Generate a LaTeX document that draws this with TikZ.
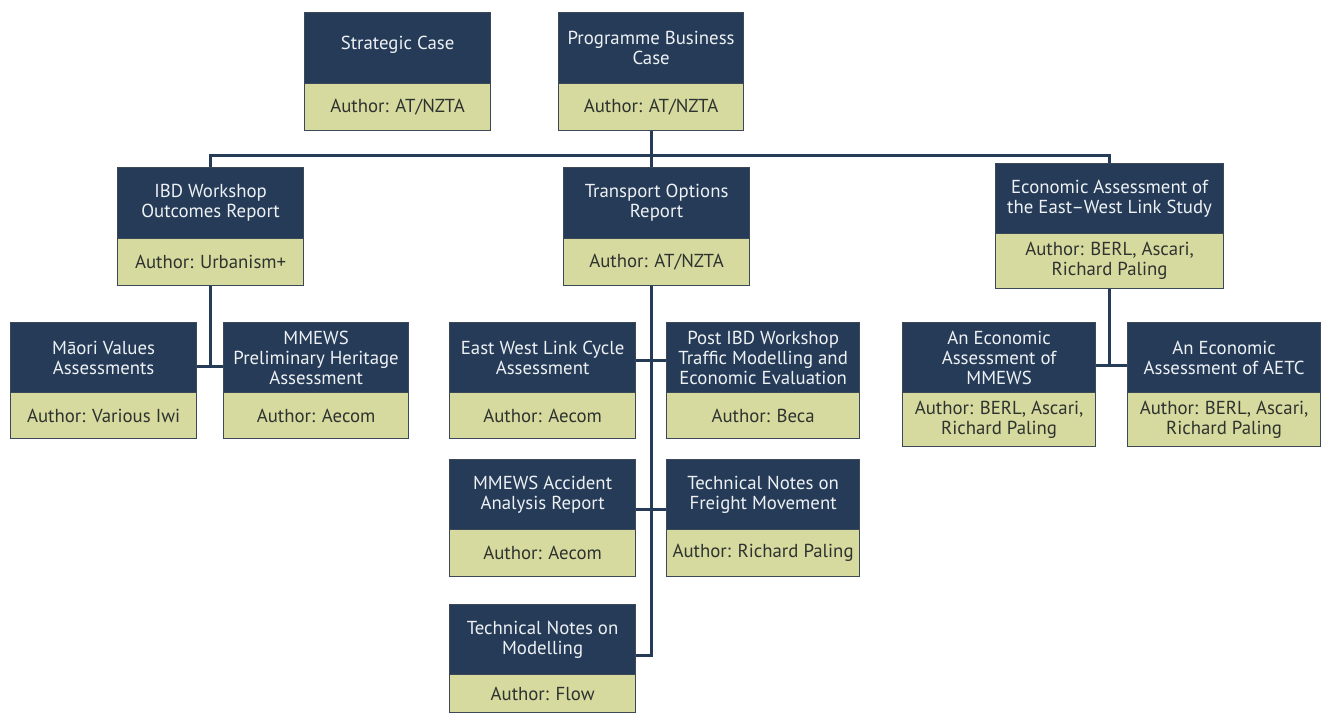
\documentclass[tikz,border=0pt]{standalone}
\usepackage{fontspec}
\setmainfont{PT Sans}
\definecolor{navy}{HTML}{253B57}
\definecolor{olive}{HTML}{D6DA9E}
\definecolor{edge}{HTML}{3A4858}
\definecolor{authtxt}{HTML}{2E3330}
\definecolor{hdtxt}{HTML}{EEF1F4}
\tikzset{
  boxtxt/.style={font=\fontsize{18.8}{20}\selectfont},
  hd/.style={boxtxt, draw=edge, line width=1.2pt, fill=navy, text=hdtxt, anchor=north west, inner sep=0pt, align=center},
  au/.style={boxtxt, draw=edge, line width=1.2pt, fill=olive, text=authtxt, anchor=north west, inner sep=0pt, align=center},
  link/.style={draw=navy, line width=3pt}
}
% name, x, width, ytop, ydiv, ybot, title, author
\newcommand\docbox[8]{%
  \node[hd, minimum width=#3pt, minimum height={(#5-#4)*1pt}] (#1) at (#2,#4) {#7};
  \node[au, minimum width=#3pt, minimum height={(#6-#5)*1pt}] (#1-a) at (#2,#5) {#8};
}
\begin{document}
\begin{tikzpicture}[x=1pt,y=-1pt]
  \fill[white] (0,0) rectangle (1326,715);
  \useasboundingbox (0,0) rectangle (1326,715);
  \clip (0,0) rectangle (1326,715);

  % coordinates for connector routing
  \coordinate (bus) at (0,155);
  \coordinate (tk) at (651,0);
  \coordinate (j1) at (210,366);
  \coordinate (j2) at (651,360);
  \coordinate (j3) at (651,509);
  \coordinate (m1) at (651,655);
  \coordinate (j4) at (1110,365);

  \docbox{sc}{304}{186}{12}{83}{130}{\raisebox{-1.5pt}[0pt][0pt]{Strategic Case}}{Author: AT/NZTA}
  \docbox{pbc}{558}{185}{12}{83}{130}{Programme Business\\Case}{Author: AT/NZTA}
  \docbox{ibd}{117}{186}{167}{238}{285}{IBD Workshop\\Outcomes Report}{Author: Urbanism+}
  \docbox{tor}{563}{186}{167}{238}{285}{Transport Options\\Report}{Author: AT/NZTA}
  \docbox{eco}{995}{228}{163}{233}{288}{Economic Assessment of\\the East–West Link Study}{Author: BERL, Ascari,\\Richard Paling}
  \docbox{mao}{10}{186}{322}{392}{438}{Māori Values\\Assessments}{Author: Various Iwi}
  \docbox{her}{223}{185}{322}{392}{438}{MMEWS\\Preliminary Heritage\\Assessment}{Author: Aecom}
  \docbox{cyc}{449}{186}{322}{392}{438}{East West Link Cycle\\Assessment}{Author: Aecom}
  \docbox{pib}{666}{193}{322}{392}{438}{Post IBD Workshop\\Traffic Modelling and\\Economic Evaluation}{Author: Beca}
  \docbox{acc}{449}{186}{459}{529}{576}{MMEWS Accident\\Analysis Report}{Author: Aecom}
  \docbox{fre}{666}{193}{459}{529}{576}{Technical Notes on\\Freight Movement}{Author: Richard Paling}
  \docbox{mod}{449}{186}{604}{674}{712}{Technical Notes on\\Modelling}{Author: Flow}
  \docbox{emm}{902}{193}{322}{392}{446}{An Economic\\Assessment of\\MMEWS}{Author: BERL, Ascari,\\Richard Paling}
  \docbox{aet}{1127}{193}{322}{392}{446}{An Economic\\Assessment of AETC}{Author: BERL, Ascari,\\Richard Paling}

  % top level
  \draw[link] (pbc-a.south -| tk) -- (tor.north -| tk);
  \draw[link] (ibd.north) -- (ibd.north |- bus) -- (eco.north |- bus) -- (eco.north);
  % IBD branch
  \draw[link] (ibd-a.south) -- (ibd-a.south |- j1);
  \draw[link] (mao.east |- j1) -- (her.west |- j1);
  % Transport options branch
  \draw[link] (tor-a.south -| tk) -- (m1) -- (mod.east |- m1);
  \draw[link] (cyc.east |- j2) -- (pib.west |- j2);
  \draw[link] (acc.east |- j3) -- (fre.west |- j3);
  % Economic branch
  \draw[link] (eco-a.south) -- (eco-a.south |- j4);
  \draw[link] (emm.east |- j4) -- (aet.west |- j4);
\end{tikzpicture}
\end{document}
